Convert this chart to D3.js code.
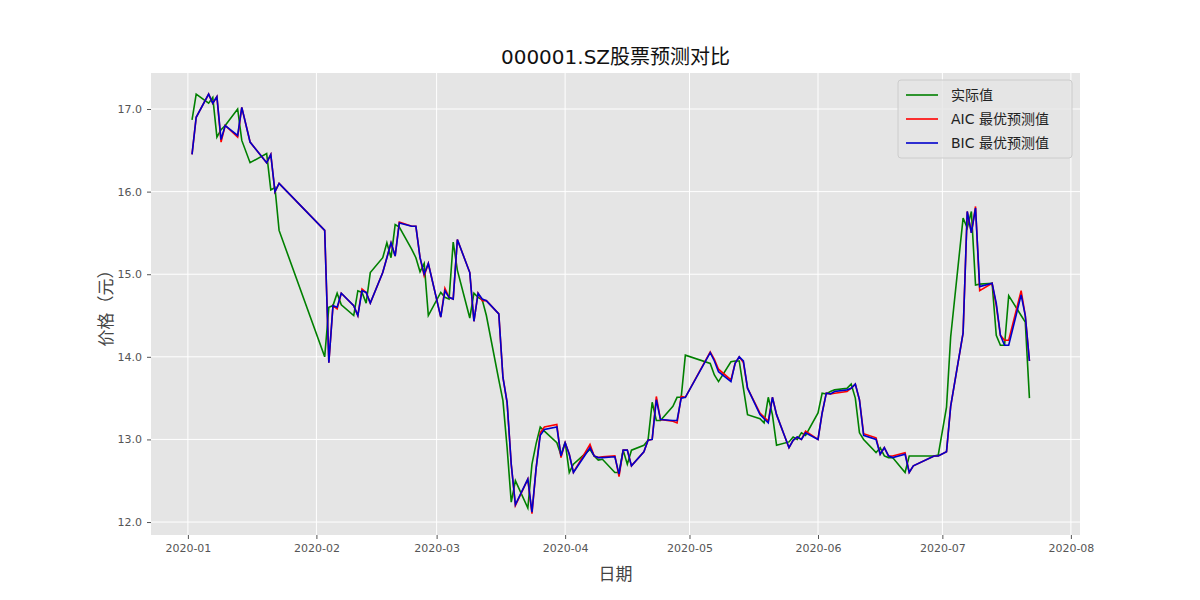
<!DOCTYPE html>
<html><head><meta charset="utf-8">
<script src="https://cdn.jsdelivr.net/npm/d3@7"></script>
<style>body{margin:0;background:#fff}svg{font-family:"DejaVu Sans","Noto Sans CJK SC",sans-serif}</style>
</head><body><svg id="c" width="1200" height="600"></svg>
<script>
const dates=["01-02","01-03","01-06","01-07","01-08","01-09","01-10","01-13","01-14","01-16","01-20","01-21","01-22","01-23",
"02-03","02-04","02-05","02-06","02-07","02-10","02-11","02-12","02-13","02-14","02-17","02-18","02-19","02-20","02-21","02-24","02-25","02-26","02-27","02-28",
"03-02","03-03","03-04","03-05","03-06","03-09","03-10","03-11","03-12","03-13","03-16","03-17","03-18","03-19","03-20","03-23","03-24","03-25","03-26","03-27","03-30","03-31",
"04-01","04-02","04-03","04-07","04-08","04-09","04-10","04-13","04-14","04-15","04-16","04-17","04-20","04-21","04-22","04-23","04-24","04-27","04-28","04-29","04-30",
"05-06","05-07","05-08","05-11","05-12","05-13","05-14","05-15","05-18","05-19","05-20","05-21","05-22","05-25","05-26","05-27","05-28","05-29",
"06-01","06-02","06-03","06-04","06-05","06-08","06-09","06-10","06-11","06-12","06-15","06-16","06-17","06-18","06-19","06-22","06-23","06-24","06-29","06-30",
"07-02","07-03","07-06","07-07","07-08","07-09","07-10","07-13","07-14","07-15","07-16","07-17","07-20","07-21","07-22"];
const actual=[16.87,17.18,17.07,17.14,16.66,16.75,16.80,17.00,16.62,16.35,16.46,16.02,16.05,15.53,
14.00,14.60,14.62,14.77,14.63,14.50,14.80,14.78,14.65,15.02,15.20,15.38,15.20,15.60,15.57,15.30,15.20,15.03,15.13,14.50,
14.78,14.72,14.70,15.39,15.05,14.47,14.77,14.72,14.69,14.50,13.72,13.47,12.90,12.24,12.50,12.17,12.70,12.95,13.15,13.10,12.96,12.81,
12.97,12.60,12.70,12.88,12.80,12.75,12.76,12.60,12.60,12.87,12.70,12.87,12.93,12.99,13.45,13.23,13.23,13.40,13.51,13.51,14.02,
13.92,13.78,13.70,13.94,13.95,13.95,13.62,13.30,13.25,13.20,13.51,13.30,12.93,12.97,13.03,13.00,13.08,13.05,
13.32,13.56,13.55,13.58,13.60,13.62,13.67,13.50,13.08,13.00,12.84,12.90,12.80,12.78,12.78,12.60,12.80,12.80,12.80,12.81,
13.39,14.24,15.68,15.56,15.76,14.87,14.88,14.89,14.26,14.14,14.14,14.74,14.50,14.42,13.50];
const bic=[16.45,16.90,17.18,17.07,17.15,16.63,16.80,16.68,17.02,16.60,16.35,16.45,16.00,16.10,
15.53,13.93,14.62,14.60,14.77,14.62,14.50,14.80,14.78,14.65,15.02,15.20,15.38,15.22,15.62,15.58,15.58,15.20,15.00,15.13,
14.48,14.80,14.72,14.70,15.42,15.02,14.43,14.77,14.70,14.68,14.52,13.75,13.45,12.70,12.21,12.52,12.12,12.65,13.05,13.12,13.15,12.80,
12.96,12.82,12.60,12.90,12.80,12.78,12.78,12.79,12.58,12.87,12.87,12.68,12.85,12.99,13.00,13.48,13.24,13.23,13.23,13.50,13.51,
14.05,13.95,13.82,13.70,13.92,14.00,13.95,13.62,13.30,13.25,13.20,13.51,13.30,12.90,12.99,13.03,13.00,13.08,
13.00,13.32,13.56,13.55,13.58,13.60,13.62,13.67,13.48,13.05,13.00,12.82,12.90,12.80,12.78,12.82,12.60,12.68,12.80,12.80,
12.85,13.40,14.29,15.76,15.50,15.80,14.85,14.89,14.65,14.26,14.14,14.14,14.75,14.50,13.95];
const aic=[16.45,16.90,17.18,17.07,17.15,16.60,16.80,16.66,17.02,16.60,16.35,16.45,16.00,16.10,
15.53,13.93,14.62,14.58,14.77,14.62,14.50,14.82,14.78,14.65,15.02,15.20,15.38,15.22,15.63,15.58,15.58,15.20,14.98,15.13,
14.48,14.83,14.72,14.70,15.42,15.02,14.43,14.77,14.68,14.68,14.52,13.75,13.45,12.70,12.20,12.52,12.10,12.65,13.08,13.15,13.18,12.78,
12.96,12.82,12.60,12.94,12.80,12.78,12.79,12.80,12.55,12.87,12.87,12.68,12.85,12.99,13.00,13.52,13.24,13.22,13.20,13.52,13.51,
14.06,13.97,13.85,13.72,13.92,14.00,13.93,13.62,13.32,13.27,13.22,13.51,13.30,12.90,12.99,13.03,13.00,13.10,
13.00,13.32,13.56,13.55,13.56,13.58,13.62,13.67,13.48,13.07,13.02,12.82,12.90,12.80,12.80,12.84,12.60,12.68,12.80,12.80,
12.85,13.40,14.29,15.76,15.50,15.82,14.80,14.89,14.62,14.26,14.20,14.20,14.80,14.50,13.95];
const xTicks=["2020-01","2020-02","2020-03","2020-04","2020-05","2020-06","2020-07","2020-08"];
const yTicks=[12,13,14,15,16,17];
const seriesNames=["实际值","AIC 最优预测值","BIC 最优预测值"];
const colors=["green","red","#0000cc"];

const parse=d3.timeParse("%Y-%m-%d");
const D=dates.map(d=>parse("2020-"+d));
const svg=d3.select("#c");
const L=151,R=1080,T=73,B=535;
const t0=parse("2020-01-01"),t1=parse("2020-08-01");
const dayMs=864e5;
const x=d3.scaleTime().domain([new Date(+t0-8.9*dayMs),new Date(+t1+2.2*dayMs)]).range([L,R]);
const y=d3.scaleLinear().domain([11.843,17.436]).range([B,T]);
svg.append("rect").attr("x",L).attr("y",T).attr("width",R-L).attr("height",B-T).attr("fill","#e5e5e5");
const xt=xTicks.map(s=>parse(s+"-01"));
svg.append("g").selectAll("line").data(xt).join("line").attr("x1",d=>x(d)).attr("x2",d=>x(d)).attr("y1",T).attr("y2",B).attr("stroke","#fff").attr("stroke-width",1);
svg.append("g").selectAll("line").data(yTicks).join("line").attr("y1",d=>y(d)).attr("y2",d=>y(d)).attr("x1",L).attr("x2",R).attr("stroke","#fff").attr("stroke-width",1);
const xa=svg.append("g").attr("transform",`translate(0,${B})`).call(d3.axisBottom(x).tickValues(xt).tickFormat((d,i)=>xTicks[i]).tickSize(4).tickPadding(5));
const ya=svg.append("g").attr("transform",`translate(${L},0)`).call(d3.axisLeft(y).tickValues(yTicks).tickSize(4).tickPadding(5));
[xa,ya].forEach(a=>{a.select(".domain").remove();a.selectAll("line").attr("stroke","#555");a.selectAll("text").attr("fill","#555").attr("font-size","11px").attr("font-family","DejaVu Sans");});
const line=d3.line().x((d,i)=>x(D[i])).y(d=>y(d));
[actual,aic,bic].forEach((s,k)=>svg.append("path").attr("d",line(s)).attr("fill","none").attr("stroke",colors[k]).attr("stroke-width",1.6));
svg.append("text").attr("x",(L+R)/2).attr("y",64).attr("text-anchor","middle").attr("font-size","20px").attr("fill","#111").text("000001.SZ股票预测对比");
svg.append("text").attr("x",(L+R)/2).attr("y",580).attr("text-anchor","middle").attr("font-size","17px").attr("fill","#444").text("日期");
svg.append("text").attr("transform",`translate(112,${(T+B)/2}) rotate(-90)`).attr("text-anchor","middle").attr("font-size","17px").attr("fill","#444").text("价格（元）");
const lg=svg.append("g");
lg.append("rect").attr("x",898).attr("y",80).attr("width",174).attr("height",78).attr("rx",3).attr("fill","#e5e5e5").attr("fill-opacity",0.8).attr("stroke","#ccc");
seriesNames.forEach((n,i)=>{
  const yy=95+i*24;
  lg.append("line").attr("x1",906).attr("x2",938).attr("y1",yy).attr("y2",yy).attr("stroke",colors[i]).attr("stroke-width",1.6);
  lg.append("text").attr("x",951).attr("y",yy+5).attr("font-size","14px").attr("fill","#222").text(n);
});
</script></body></html>
